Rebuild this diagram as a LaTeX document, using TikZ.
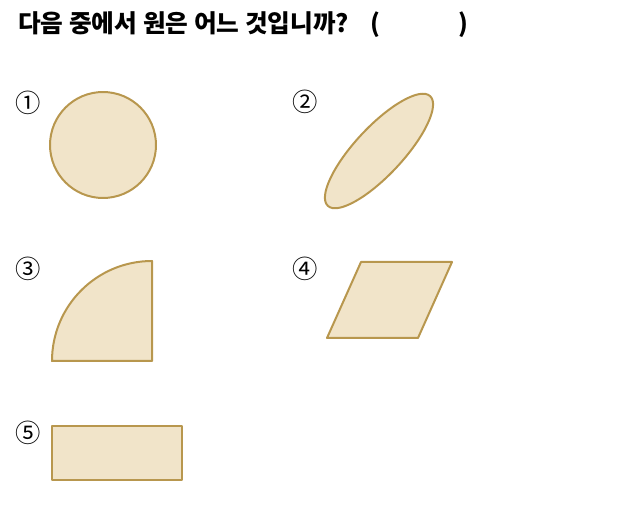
\documentclass[tikz,border=0pt]{standalone}
\usepackage{fontspec}
\newfontfamily\kor{Noto Sans CJK KR}
\definecolor{figfill}{HTML}{F1E4C9}
\definecolor{figline}{HTML}{B8974E}
\begin{document}
\begin{tikzpicture}[x=0.75pt,y=-0.75pt,
	fig/.style={draw=figline,fill=figfill,line width=1.5pt,line join=round},
	num/.style={inner sep=0pt,font=\kor\fontsize{19pt}{19pt}\selectfont}]
	
	\useasboundingbox (0,0) rectangle (619,517);
	
	\node[anchor=base west,inner sep=0pt,font=\kor\bfseries\fontsize{18.5pt}{19pt}\selectfont] (title) at (18,33) {다음 중에서 원은 어느 것입니까?\hspace{16pt}(\hspace{59pt})};
	
	\node[num] (n1) at (28,103) {①};
	\node[num] (n2) at (305,102) {②};
	\node[num] (n3) at (28,269) {③};
	\node[num] (n4) at (305,269) {④};
	\node[num] (n5) at (28,433) {⑤};
	
	\draw[fig] (103,145) circle (53);
	\draw[fig] (379,151) ellipse [x radius=75,y radius=24,rotate=47];
	\draw[fig] (152,361) -- (52,361) arc (180:270:100) -- cycle;
	\draw[fig] (361,262) -- (452,262) -- (418,338) -- (327,338) -- cycle;
	\draw[fig] (52,426) rectangle (182,480);
	
\end{tikzpicture}
\end{document}
